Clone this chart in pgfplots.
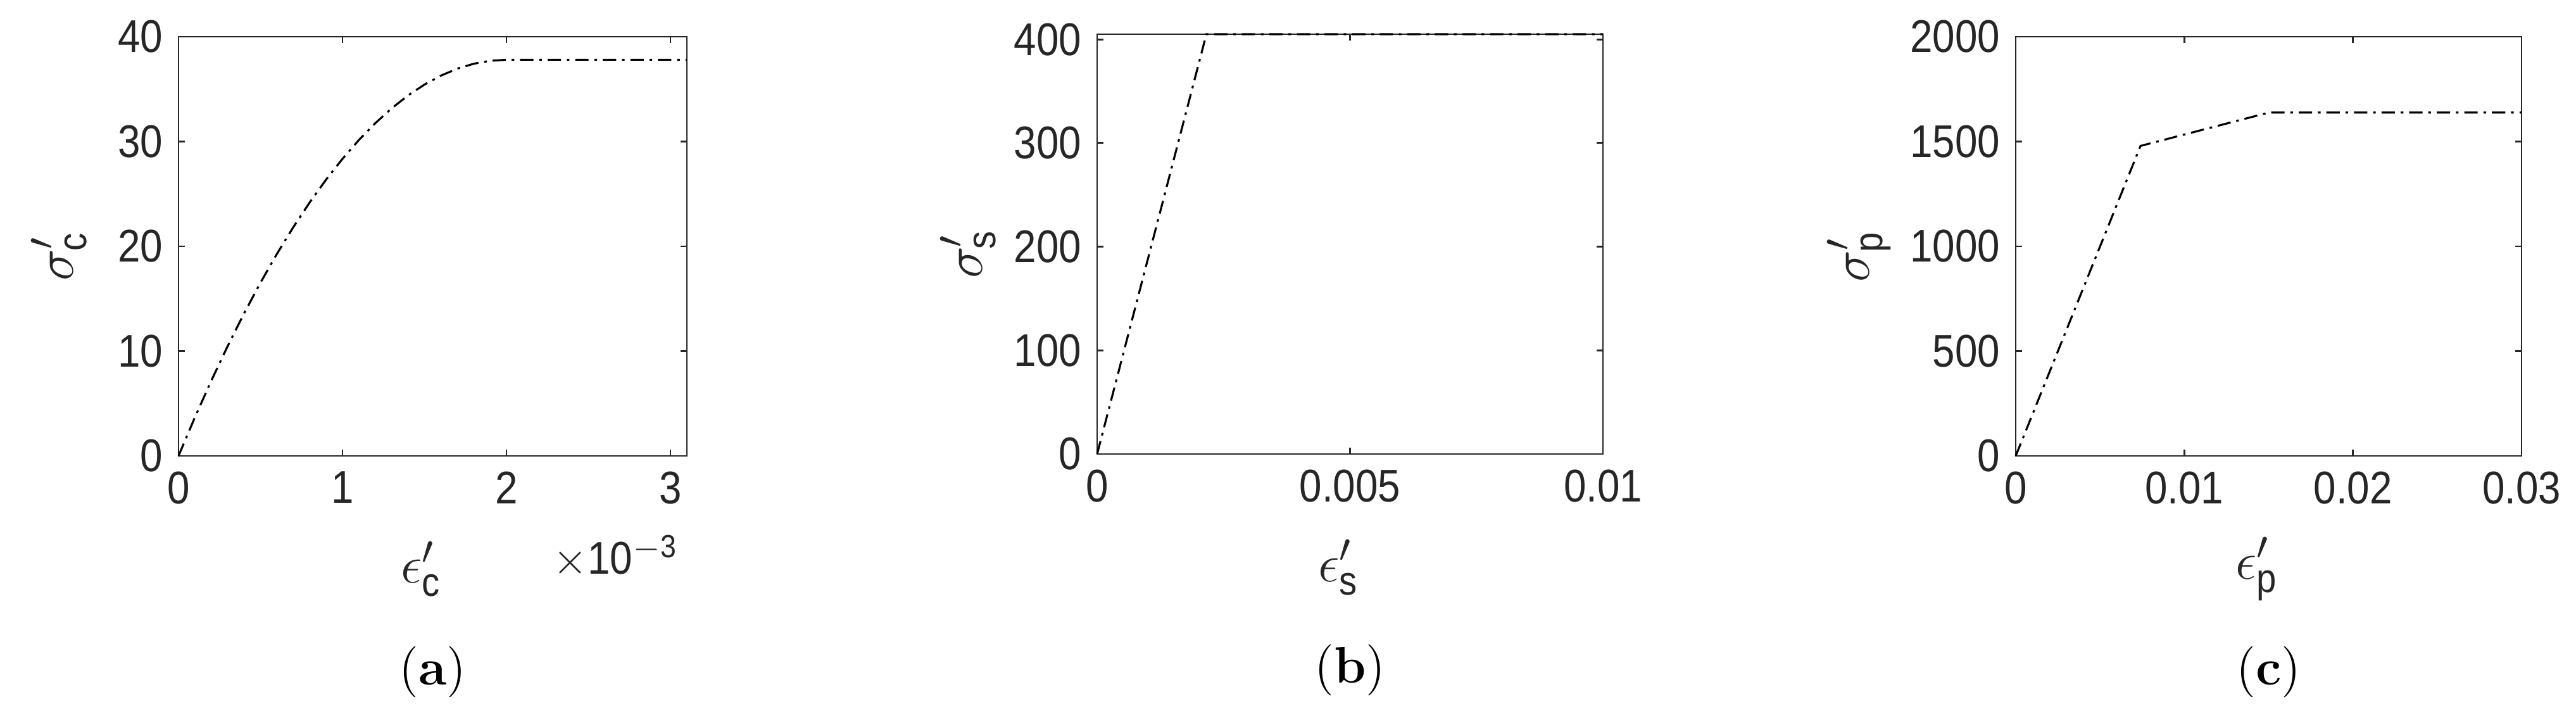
\documentclass[border=0pt]{standalone}
\usepackage{fontspec}
\setsansfont{Liberation Sans}[FakeStretch=0.88]
\usepackage{pgfplots}
\pgfplotsset{compat=1.18}

\definecolor{axgray}{HTML}{262626}

\pgfplotsset{
  matlab/.style={
    scale only axis,
    axis line style={draw=axgray, line width=0.4pt},
    tick style={draw=axgray, line width=0.4pt},
    tick align=inside,
    major tick length=0.05cm,
    ticklabel style={font=\sffamily\fontsize{10.3}{12}\selectfont, text=axgray},
    /pgf/number format/assume math mode=true,
    /pgf/number format/1000 sep={},
    scaled ticks=false,
    label style={font=\fontsize{13}{15}\selectfont, text=axgray},
    xlabel style={at={(axis description cs:0.48,-0.27)}, anchor=center},
    clip=false,
  },
  curve/.style={black, line width=0.45pt,
    dash pattern=on 3pt off 1.3pt on 0.6pt off 1.3pt},
}

\newcommand{\subcap}[1]{\fontsize{11.5}{13}\selectfont(\textbf{#1})}

\begin{document}
\begin{tikzpicture}
\useasboundingbox (0,0) rectangle (20.345,5.625);

% (a) concrete
\begin{axis}[matlab,
  at={(1.41cm,2.025cm)}, anchor=south west,
  width=4.015cm, height=3.31cm,
  xmin=0, xmax=3.1, ymin=0, ymax=40,
  xtick={0,1,2,3}, ytick={0,10,20,30,40},
  xlabel={$\epsilon'_{\mathsf{c}}$},
  ylabel={$\sigma'_{\mathsf{c}}$},
  ylabel style={at={(axis description cs:-0.235,0.48)}, anchor=center},
]
\addplot[curve] coordinates {
  (0,0) (0.1,3.686) (0.2,7.182) (0.3,10.490) (0.4,13.608) (0.5,16.538)
  (0.6,19.278) (0.7,21.830) (0.8,24.192) (0.9,26.366) (1.0,28.350)
  (1.1,30.146) (1.2,31.752) (1.3,33.170) (1.4,34.398) (1.5,35.438)
  (1.6,36.288) (1.7,36.950) (1.8,37.422) (1.9,37.706) (2.0,37.800)
  (3.1,37.800)
};
\node[anchor=east, inner sep=0pt, text=axgray, font=\sffamily\fontsize{10.3}{12}\selectfont]
  at (axis description cs:0.985,-0.24) {$\times$10\textsuperscript{$-$3}};
\node at (axis description cs:0.5,-0.515) {\subcap{a}};
\end{axis}

% (b) steel
\begin{axis}[matlab,
  at={(8.665cm,2.04cm)}, anchor=south west,
  width=3.995cm, height=3.315cm,
  xmin=0, xmax=0.01, ymin=0, ymax=405,
  xtick={0,0.005,0.01}, xticklabels={0,0.005,0.01},
  ytick={0,100,200,300,400},
  xlabel={$\epsilon'_{\mathsf{s}}$},
  ylabel={$\sigma'_{\mathsf{s}}$},
  ylabel style={at={(axis description cs:-0.255,0.48)}, anchor=center},
]
\addplot[curve] coordinates {
  (0,0) (0.00216,405) (0.01,405)
};
\node at (axis description cs:0.5,-0.515) {\subcap{b}};
\end{axis}

% (c) prestressing steel
\begin{axis}[matlab,
  at={(15.92cm,2.025cm)}, anchor=south west,
  width=3.995cm, height=3.31cm,
  xmin=0, xmax=0.03, ymin=0, ymax=2000,
  xtick={0,0.01,0.02,0.03}, xticklabels={0,0.01,0.02,0.03},
  ytick={0,500,1000,1500,2000},
  xlabel={$\epsilon'_{\mathsf{p}}$},
  ylabel={$\sigma'_{\mathsf{p}}$},
  ylabel style={at={(axis description cs:-0.31,0.48)}, anchor=center},
]
\addplot[curve] coordinates {
  (0,0) (0.0074,1479) (0.015,1638) (0.03,1638)
};
\node at (axis description cs:0.5,-0.515) {\subcap{c}};
\end{axis}
\end{tikzpicture}
\end{document}
